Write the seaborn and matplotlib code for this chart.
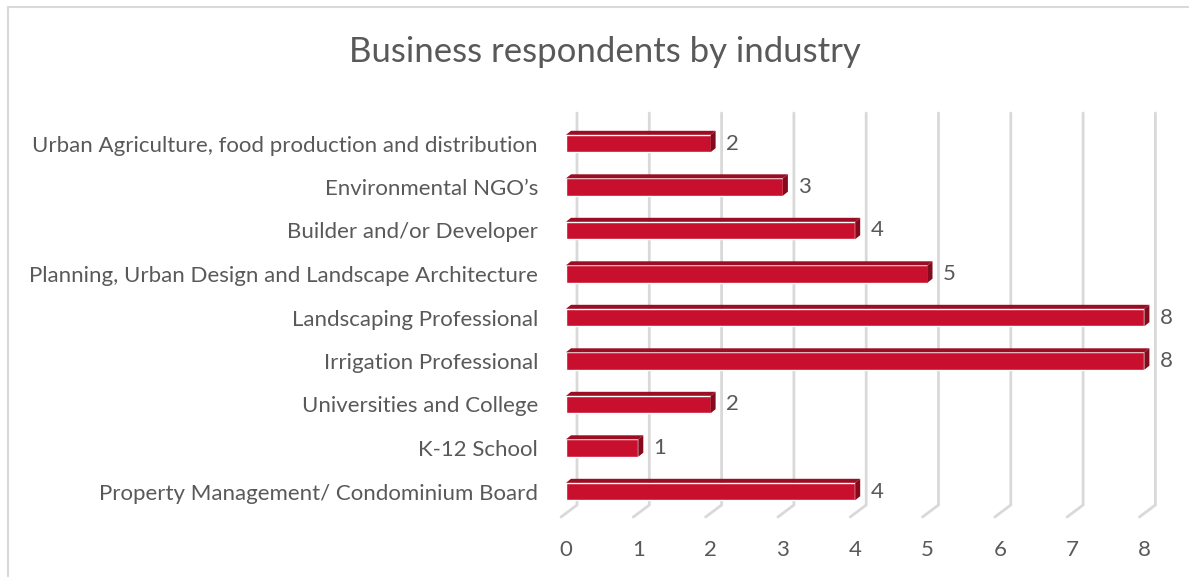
import pandas as pd
import seaborn as sns
import matplotlib.pyplot as plt
from matplotlib.patches import Polygon, Rectangle

# data (top to bottom)
industries = [
    'Urban Agriculture, food production and distribution',
    'Environmental NGO\u2019s',
    'Builder and/or Developer',
    'Planning, Urban Design and Landscape Architecture',
    'Landscaping Professional',
    'Irrigation Professional',
    'Universities and College',
    'K-12 School',
    'Property Management/ Condominium Board',
]
counts = [2, 3, 4, 5, 8, 8, 2, 1, 4]
x_ticks = [0, 1, 2, 3, 4, 5, 6, 7, 8]

front = '#C8102E'
top_col = '#9C0C22'
side_col = '#850A1C'
grid_col = '#D9D9D9'
text_col = '#595959'

sns.set_theme(style='white')
plt.rcParams['font.family'] = ['Lato', 'DejaVu Sans']

df = pd.DataFrame({'industry': industries, 'count': counts})

W, H = 1189, 577
fig = plt.figure(figsize=(W / 100, H / 100), dpi=100)

# pixel <-> data helpers
x0, xs = 566, 72.3
y0, ys = 143.5, 43.5
def xd(px):
    return (px - x0) / xs
def yd(py):
    return (py - y0) / ys

ax_left, ax_right, ax_top, ax_bottom = 540, 1189, 100, 530
ax = fig.add_axes([ax_left / W, 1 - ax_bottom / H,
                   (ax_right - ax_left) / W, (ax_bottom - ax_top) / H])

sns.barplot(data=df, y='industry', x='count', orient='h', color=front,
            saturation=1, width=0.4, ax=ax, zorder=3)

ax.set_xlim(xd(ax_left), xd(ax_right))
ax.set_ylim(yd(ax_bottom), yd(ax_top))

# back-wall gridlines with floor diagonal
for v in x_ticks:
    xb = v + 11 / xs
    xf = v - 5 / xs
    ax.plot([xb, xb, xf], [yd(113), yd(505), yd(517)], color=grid_col,
            lw=2, zorder=1, solid_joinstyle='miter', clip_on=False)

# fake 3d depth on every bar
dx, dy = 5 / xs, -4 / ys
for p in ax.patches:
    bx, by, bw, bh = p.get_x(), p.get_y(), p.get_width(), p.get_height()
    yt, yb = by, by + bh
    ax.add_patch(Polygon([(bx, yt), (bx + bw, yt), (bx + bw + dx, yt + dy),
                          (bx + dx, yt + dy)], closed=True, color=top_col,
                         lw=0, zorder=3))
    ax.add_patch(Polygon([(bx + bw, yt), (bx + bw + dx, yt + dy),
                          (bx + bw + dx, yb + dy), (bx + bw, yb)], closed=True,
                         color=side_col, lw=0, zorder=3))

ax.bar_label(ax.containers[0], padding=11, fontsize=16, color=text_col)

ax.set_xticks(x_ticks)
ax.set_xticklabels([str(t) for t in x_ticks])
ax.set_xlabel('')
ax.set_ylabel('')
ax.tick_params(axis='y', length=0, pad=1.5, labelsize=16, labelcolor=text_col)
ax.tick_params(axis='x', length=0, pad=7, labelsize=16, labelcolor=text_col)
for s in ax.spines.values():
    s.set_visible(False)
ax.patch.set_alpha(0)

fig.text(605 / W, 1 - 52 / H, 'Business respondents by industry', ha='center',
         va='center', fontsize=25, color=text_col)

fig.add_artist(Rectangle((8 / W, -0.1), 1.2, (H - 7) / H + 0.1,
                         transform=fig.transFigure, fill=False,
                         ec=grid_col, lw=1.5))

fig.savefig('out.png', dpi=100, facecolor='white')
